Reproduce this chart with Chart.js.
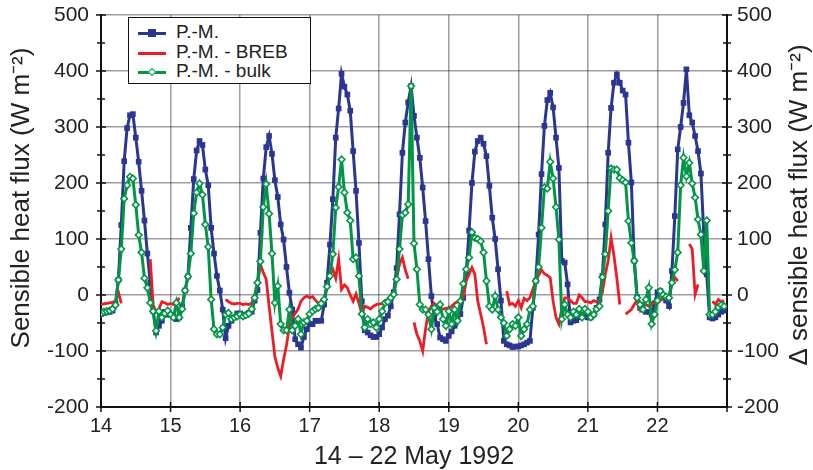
<!DOCTYPE html>
<html>
<head>
<meta charset="utf-8">
<script src="https://cdn.jsdelivr.net/npm/chart.js@4"></script>
<style>
  html, body { margin: 0; padding: 0; background: #fff; }
  #wrap { position: relative; width: 813px; height: 470px; }
  #legend { position: absolute; left: 128px; top: 17px; width: 181px; height: 65px; border: 1.5px solid #111;
            background: #fff; font-family: 'Liberation Sans', Arial, sans-serif; font-size: 19px; color: #222; }
  .item { position: absolute; left: 9px; height: 20px; }
  .item .ln { position: absolute; left: 0; top: 9px; width: 28px; height: 3px; }
  .item .mk { position: absolute; left: 10px; top: 6px; width: 8px; height: 8px; }
  .item .tx { position: absolute; left: 38px; top: -2px; white-space: nowrap; }
</style>
</head>
<body>
<div id="wrap">
  <canvas id="chart" width="813" height="470"></canvas>
  <div id="legend"></div>
</div>
<script>
const START_DAY = 14;
const dayTicks = [14, 15, 16, 17, 18, 19, 20, 21, 22, 23];
const fluxTicks = [-200, -100, 0, 100, 200, 300, 400, 500];
const seriesLabels = ['P.-M.', 'P.-M. - BREB', 'P.-M. - bulk'];

// hourly values, one row per day (14 ... 22 May)
const pm = [
  -34,-32,-31,-30,-28,-15,27,125,239,298,321,323,281,238,186,133,74,22,-29,-67,-55,-46,-30,-35,
  -35,-38,-43,-40,-20,8,33,120,207,258,275,268,224,196,120,74,34,8,-26,-77,-55,-46,-40,-33,
  -33,-35,-36,-32,-30,-10,9,111,208,264,284,252,205,175,126,99,50,4,-26,-79,-88,-94,-75,-61,
  -52,-52,-46,-46,-46,-17,22,90,171,281,333,395,372,358,329,257,186,93,-11,-63,-67,-72,-75,-75,
  -70,-58,-43,-37,-20,5,48,144,254,308,344,373,320,281,245,192,132,64,-2,-40,-52,-76,-79,-82,
  -73,-65,-55,-45,-34,-5,37,115,200,256,275,281,270,248,195,138,100,46,-10,-82,-88,-90,-93,-92,
  -92,-90,-88,-85,-82,-23,25,108,216,302,348,361,335,281,227,61,58,19,-49,-46,-45,-40,-35,-38,
  -40,-40,-35,-23,-8,34,126,254,334,379,394,379,365,358,272,201,61,-4,-23,-26,-30,-30,-35,-15,
  5,7,-5,-10,-20,43,141,260,300,343,403,321,308,284,257,217,108,37,-40,-42,-40,-35,-30,-28
];

const pmBreb = [
  -17,-16,-15,-14,-13,-12,5,-15,null,null,null,null,null,null,null,null,null,64,-18,-30,-25,-12,-14,-17,
  -15,-17,-14,-5,null,null,null,null,null,null,null,null,null,null,null,null,null,null,null,-8,-12,-15,-16,-15,
  -15,-17,-16,-17,-15,0,20,55,40,28,-20,-65,-110,-130,-145,-115,-90,-55,-40,-33,-25,-11,-5,-2,
  -5,-3,-9,-15,-17,-5,15,37,46,30,64,10,18,13,0,-11,2,-15,-34,-20,-22,-25,-20,-17,
  -16,-16,-11,-8,-5,2,30,55,67,45,29,null,-49,-70,-82,-100,-60,-30,-20,-15,-20,-23,-25,-24,
  -23,-20,-15,-12,-8,-5,25,37,49,37,-11,-34,-58,-88,null,null,null,null,null,null,7,-17,-15,-20,
  -10,-23,-6,-10,-5,10,25,35,45,38,35,31,-11,-40,-52,-25,-5,-5,-10,-15,-15,0,-5,-12,
  -12,-14,-10,-12,-10,5,37,61,102,70,30,-17,null,-34,-30,-26,-17,-8,-26,-15,-17,-20,-15,-15,
  -15,-10,-5,-8,-5,20,31,25,null,null,null,91,82,1,19,null,null,null,null,-11,-17,-8,-12,-10
];

const pmBulk = [
  -33,-30,-29,-28,-25,-18,27,82,172,196,211,208,161,107,76,30,13,-14,-29,-64,-29,-40,-33,-28,
  -35,-40,-14,-40,-25,8,33,74,146,183,199,179,126,86,-8,-61,-70,-70,-58,-35,-32,-43,-40,-38,
  -35,-38,-36,-33,-25,-5,22,60,157,198,145,74,-14,16,-52,-63,-63,-26,-63,-55,-43,-70,-49,-46,
  -34,-29,-25,-23,-15,-8,15,34,73,156,193,242,183,147,133,64,67,34,-34,-58,-43,-52,-49,-58,
  -43,-29,-14,-12,-5,1,28,82,143,147,162,373,92,46,-17,-26,-26,-35,-61,-23,-30,-17,-43,-55,
  -29,-52,-26,-46,-11,20,46,67,112,102,100,96,76,25,-20,-26,-2,-26,-40,-50,-73,-61,-52,-55,
  -40,-73,-61,-52,-26,-20,25,50,120,192,190,238,208,157,99,-43,-17,-35,-40,-30,-35,-25,-40,-25,
  -30,-40,-35,-25,-20,32,73,150,226,224,224,209,205,201,132,93,61,-5,-17,-26,-8,13,-52,-35,
  -10,7,0,-3,-5,22,45,76,196,245,212,236,199,174,135,108,43,133,-35,-35,-30,-22,-18,-20
];

const BLUE = 'rgb(43,54,145)';
const RED = 'rgb(235,30,40)';
const GREEN = 'rgb(0,150,70)';
const FONT = "'Liberation Sans', Arial, sans-serif";

const toPoints = arr => arr.map((v, i) => ({ x: START_DAY + i / 24, y: v }));

// crossing tick marks on all axes, plus both vertical axis titles (read bottom to top)
const axisExtras = {
    id: 'axisExtras',
    afterDraw(chart) {
        const { ctx, chartArea: a, scales: { x, y } } = chart;
        ctx.save();
        ctx.strokeStyle = '#111';
        ctx.lineWidth = 1.5;
        const seg = (x1, y1, x2, y2) => { ctx.beginPath(); ctx.moveTo(x1, y1); ctx.lineTo(x2, y2); ctx.stroke(); };
        for (let i = 0; i < fluxTicks.length; i++) {
            const py = y.getPixelForValue(fluxTicks[i]);
            seg(a.left - 5, py, a.left + 5, py);
            seg(a.right - 5, py, a.right + 5, py);
            if (i < fluxTicks.length - 1) {
                const pm2 = y.getPixelForValue((fluxTicks[i] + fluxTicks[i + 1]) / 2);
                seg(a.left - 4, pm2, a.left + 4, pm2);
                seg(a.right - 4, pm2, a.right + 4, pm2);
            }
        }
        dayTicks.forEach(d => {
            const px = x.getPixelForValue(d);
            seg(px, a.bottom - 5, px, a.bottom + 5);
        });
        ctx.fillStyle = '#222';
        ctx.textAlign = 'center';
        ctx.textBaseline = 'middle';
        const vtext = (txt, cx, cy, size) => {
            ctx.save();
            ctx.translate(cx, cy);
            ctx.rotate(-Math.PI / 2);
            ctx.font = size + 'px ' + FONT;
            ctx.fillText(txt, 0, 0);
            ctx.restore();
        };
        vtext('Sensible heat flux (W m\u207B\u00B2)', 22, 198, 26);
        vtext('\u0394 sensible heat flux (W m\u207B\u00B2)', a.right + 73, 205, 26);
        ctx.restore();
    }
};

const gridColor = 'rgba(0,0,0,0.38)';

new Chart(document.getElementById('chart'), {
    type: 'line',
    data: {
        datasets: [
            { label: seriesLabels[0], data: toPoints(pm), borderColor: BLUE, backgroundColor: BLUE, borderWidth: 3,
              pointStyle: 'rect', pointRadius: 4, pointBorderWidth: 0, order: 3 },
            { label: seriesLabels[1], data: toPoints(pmBreb), borderColor: RED, backgroundColor: RED, borderWidth: 2.8,
              pointRadius: 0, spanGaps: false, order: 2 },
            { label: seriesLabels[2], data: toPoints(pmBulk), borderColor: GREEN, backgroundColor: '#fff', borderWidth: 3,
              pointStyle: 'rectRot', pointRadius: 3.3, pointBorderWidth: 1.6, pointBorderColor: GREEN, order: 1 }
        ]
    },
    options: {
        responsive: false,
        animation: false,
        events: [],
        layout: { padding: { top: 15, bottom: 0, left: 0, right: 0 } },
        plugins: { legend: { display: false }, tooltip: { enabled: false } },
        scales: {
            x: {
                type: 'linear', min: 14, max: 23,
                afterFit: s => { s.height = 63; s.paddingLeft = 0; s.paddingRight = 0; },
                afterBuildTicks: s => { s.ticks = dayTicks.map(v => ({ value: v })); },
                ticks: { callback: v => (v === 23 ? '' : v), color: '#222', font: { family: FONT, size: 20 }, padding: 7, maxRotation: 0 },
                grid: { color: gridColor, lineWidth: 1.5, drawTicks: false },
                border: { color: '#111', width: 2 },
                title: { display: true, text: '14 \u2013 22 May 1992', color: '#222', font: { family: FONT, size: 25 }, padding: { top: 8, bottom: -2 } }
            },
            y: {
                position: 'left', min: -200, max: 500,
                afterFit: s => { s.width = 101; s.paddingTop = 0; s.paddingBottom = 0; },
                afterBuildTicks: s => { s.ticks = fluxTicks.map(v => ({ value: v })); },
                ticks: { color: '#222', font: { family: FONT, size: 21 }, padding: 12 },
                grid: { color: gridColor, lineWidth: 1.5, drawTicks: false },
                border: { color: '#111', width: 2 }
            },
            y2: {
                position: 'right', min: -200, max: 500,
                afterFit: s => { s.width = 86; s.paddingTop = 0; s.paddingBottom = 0; },
                afterBuildTicks: s => { s.ticks = fluxTicks.map(v => ({ value: v })); },
                ticks: { color: '#222', font: { family: FONT, size: 21 }, padding: 10 },
                grid: { display: false, drawTicks: false },
                border: { color: '#111', width: 2 }
            }
        }
    },
    plugins: [axisExtras]
});

// legend box inside the plot
const legendStyles = [
    { color: BLUE, marker: 'square' },
    { color: RED, marker: null },
    { color: GREEN, marker: 'diamond' }
];
const legend = document.getElementById('legend');
seriesLabels.forEach((label, i) => {
    const st = legendStyles[i];
    const item = document.createElement('div');
    item.className = 'item';
    item.style.top = (5 + i * 19.5) + 'px';
    let mk = '';
    if (st.marker === 'square') mk = `<span class="mk" style="background:${st.color}"></span>`;
    if (st.marker === 'diamond') mk = `<span class="mk" style="background:#fff;border:1.5px solid ${st.color};width:4px;height:4px;transform:rotate(45deg);left:11px;top:7px"></span>`;
    item.innerHTML = `<span class="ln" style="background:${st.color}"></span>${mk}<span class="tx">${label}</span>`;
    legend.appendChild(item);
});
</script>
</body>
</html>
